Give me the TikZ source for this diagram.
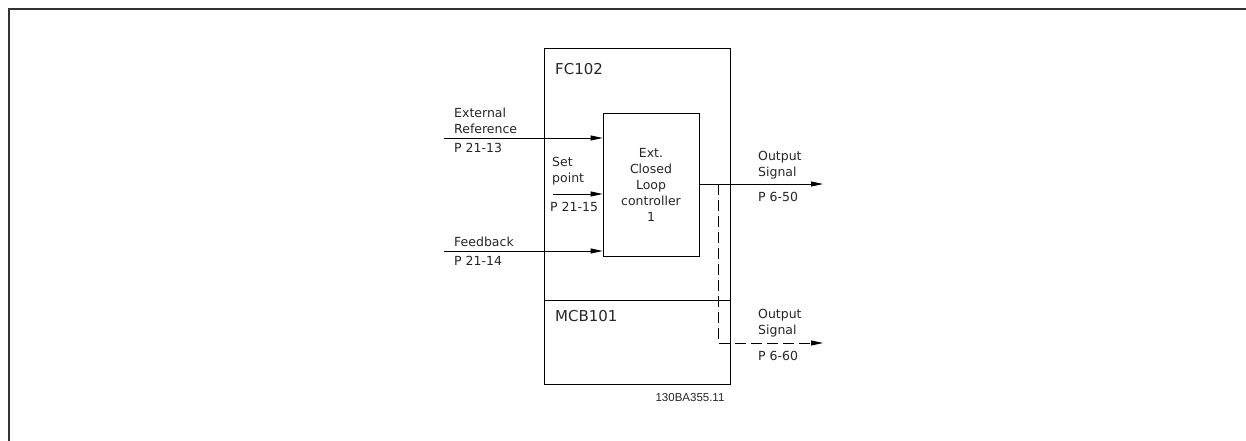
\documentclass[tikz,border=0pt]{standalone}
\usepackage{fontspec}
\setmainfont{DejaVu Sans}
\newfontfamily\codefont{Liberation Sans}
\usetikzlibrary{arrows.meta}

\begin{document}
\begin{tikzpicture}[
        x=1pt, y=-1pt,
        box/.style={draw, line width=0.8pt, inner sep=0pt},
        lbl/.style={anchor=west, inner sep=0pt, align=left, text=black!85, font=\fontsize{12.5}{16}\selectfont},
        title/.style={anchor=west, inner sep=0pt, text=black!85, font=\fontsize{15}{18}\selectfont},
        sig/.style={draw, line width=0.8pt, -{Triangle[length=12pt,width=5pt]}},
        dsig/.style={sig, dash pattern=on 11pt off 5pt},
    ]
    \useasboundingbox (0,0) rectangle (1246,441);
    \draw[line width=1.6pt, black!80] (9,441) -- (9,9) -- (1246,9);

    \node[box, minimum width=186pt, minimum height=336pt](fc102) at (637,216){};
    \coordinate (split) at (637,300);
    \draw[line width=0.8pt] (fc102.west |- split) -- (fc102.east |- split);
    \node[title](fc102lbl) at (555,69){FC102};
    \node[title](mcb101) at (555,316){MCB101};

    \node[box, minimum width=96pt, minimum height=143pt, align=center, text=black!85,
        font=\fontsize{12.5}{16}\selectfont](ctrl) at (651,184.5){Ext.\\Closed\\Loop\\controller\\1};

    % inputs
    \coordinate (extin) at (444,138);
    \coordinate (setin) at (553,194);
    \coordinate (fbin) at (444,251);
    \draw[sig] (extin) -- (extin -| ctrl.west);
    \draw[sig] (setin) -- (setin -| ctrl.west);
    \draw[sig] (fbin) -- (fbin -| ctrl.west);
    \node[lbl](extref) at (454,121){External\\Reference};
    \node[lbl](p2113) at (454,148){P 21-13};
    \node[lbl](setpt) at (552,171){Set\\point};
    \node[lbl](p2115) at (550,207){P 21-15};
    \node[lbl](fb) at (454,242){Feedback};
    \node[lbl](p2114) at (454,261){P 21-14};

    % outputs
    \coordinate (out1) at (823,184);
    \coordinate (tap) at (718,184);
    \coordinate (out2) at (823,343);
    \draw[sig] (ctrl.east |- out1) -- (out1);
    \draw[dsig] (tap) -- (tap |- out2) -- (out2);
    \node[lbl](sig1) at (758,165){Output\\Signal};
    \node[lbl](p650) at (758,197){P 6-50};
    \node[lbl](sig2) at (758,323){Output\\Signal};
    \node[lbl](p660) at (758,356){P 6-60};

    \node[inner sep=0pt, text=black!85, font=\codefont\fontsize{11.5}{13}\selectfont](code) at (690,398){130BA355.11};
\end{tikzpicture}
\end{document}
